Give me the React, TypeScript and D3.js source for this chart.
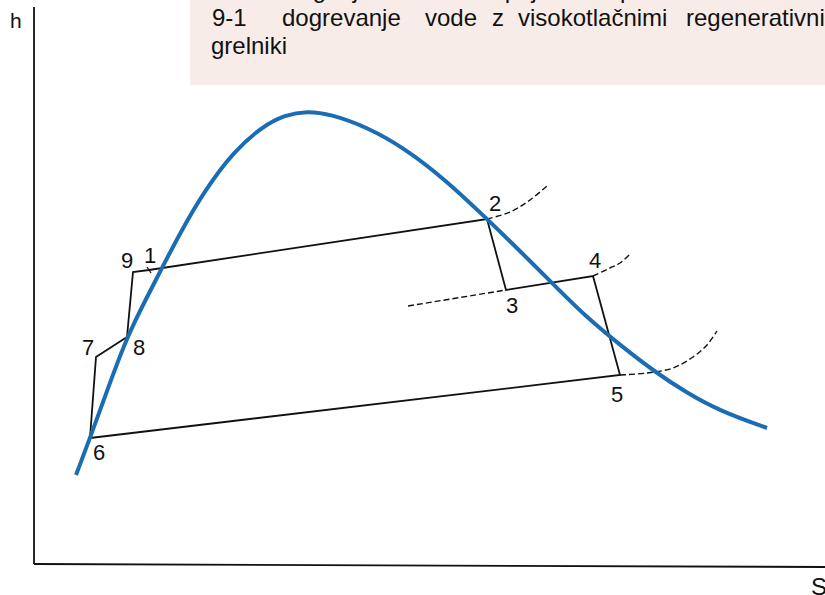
import React from "react";
import * as d3 from "d3";

// Saturation dome (entropy s, enthalpy h) in chart units
const DOME_S = [42, 56, 74, 93, 111, 128, 146, 171, 200, 229, 251, 273, 296, 333, 372, 414, 453, 486, 518, 551, 586, 621, 653, 686, 733];
const DOME_H = [88, 125, 175, 226, 262, 295, 330, 373, 412, 437, 448, 452, 449, 436, 414, 381, 344, 312, 280, 247, 218, 191, 170, 152, 135];

// Cycle state points
const STATE_IDS = ["6", "7", "8", "9", "1", "2", "3", "4", "5"];
const STATE_S = [56, 62, 93, 99, 115, 453, 472, 559, 586];
const STATE_H = [125, 206, 226, 291, 293, 344, 273, 287, 188];
const CYCLE_ORDER = ["6", "7", "8", "9", "1", "2", "3", "4", "5", "6"];

// Isobars continuing past the cycle (dashed)
const ISOBAR_3_S = [374, 472];
const ISOBAR_3_H = [257, 273];
const ISOBAR_2_S = [453, 476, 496, 514];
const ISOBAR_2_H = [344, 351, 363, 378];
const ISOBAR_4_S = [559, 576, 586, 597];
const ISOBAR_4_H = [287, 295, 300, 310];
const ISOBAR_5_S = [586, 613, 639, 659, 673, 683];
const ISOBAR_5_H = [188, 190, 195, 206, 218, 232];

// Legend text
const NOTE_PREV = ["8-9", "dviganje", "tlaka", "z", "napajalno", "črpalko"];
const NOTE_LINE1 = ["9-1", "dogrevanje", "vode", "z", "visokotlačnimi", "regenerativnimi"];
const NOTE_LINE2 = ["grelniki"];
const AXIS_X_LABEL = "S";
const AXIS_Y_LABEL = "h";

const W = 825;
const H = 595;

const FONT = "'Liberation Sans', Arial, sans-serif";

export default function App() {
  const x = d3.scaleLinear().domain([0, 800]).range([34, 834]);
  const y = d3.scaleLinear().domain([0, 560]).range([563, 3]);

  const line = d3
    .line<[number, number]>()
    .x((d) => x(d[0]))
    .y((d) => y(d[1]));
  const smooth = d3
    .line<[number, number]>()
    .x((d) => x(d[0]))
    .y((d) => y(d[1]))
    .curve(d3.curveCatmullRom.alpha(0.5));
  const dome = d3
    .line<[number, number]>()
    .x((d) => x(d[0]))
    .y((d) => y(d[1]))
    .curve(d3.curveBasis);

  const zip = (a: number[], b: number[]): [number, number][] => a.map((v, i) => [v, b[i]]);

  const state: Record<string, [number, number]> = {};
  STATE_IDS.forEach((id, i) => (state[id] = [STATE_S[i], STATE_H[i]]));
  const cyclePts = CYCLE_ORDER.map((id) => state[id]);

  // label placement relative to each state point (px)
  const labelOffset: Record<string, [number, number]> = {
    "6": [3, 22],
    "7": [-14, -2],
    "8": [6, 18],
    "9": [-12, -4],
    "1": [-5, -7],
    "2": [2, -8],
    "3": [0, 23],
    "4": [-4, -8],
    "5": [-9, 27],
  };

  const noteX1 = [212, 282, 425, 492, 518, 686];
  const notePrevX = [212, 282, 390, 455, 478, 600];

  const p1 = state["1"];

  return (
    <svg
      width={W}
      height={H}
      style={{ position: "fixed", left: 0, top: 0, background: "#fff" }}
      fontFamily={FONT}
    >
      {/* note box */}
      <rect x={190} y={0} width={W - 190} height={85} fill="#f8ece8" />
      {NOTE_PREV.map((w, i) => (
        <text key={"p" + i} x={notePrevX[i]} y={-2} fontSize={24} fill="#111">
          {w}
        </text>
      ))}
      {NOTE_LINE1.map((w, i) => (
        <text key={"l" + i} x={noteX1[i]} y={26} fontSize={24} fill="#111">
          {w}
        </text>
      ))}
      {NOTE_LINE2.map((w, i) => (
        <text key={"g" + i} x={211} y={54} fontSize={24} fill="#111">
          {w}
        </text>
      ))}

      {/* axes */}
      <path
        d={line([
          [0, -1],
          [0, 556],
        ])!}
        stroke="#111"
        strokeWidth={1.8}
        fill="none"
      />
      <path
        d={line([
          [0, -1],
          [791, -4],
        ])!}
        stroke="#111"
        strokeWidth={1.8}
        fill="none"
      />
      <text x={10} y={28} fontSize={21} fill="#111">
        {AXIS_Y_LABEL}
      </text>
      <text x={811} y={595} fontSize={24} fill="#111">
        {AXIS_X_LABEL}
      </text>

      {/* dashed isobars */}
      {[
        zip(ISOBAR_3_S, ISOBAR_3_H),
        zip(ISOBAR_2_S, ISOBAR_2_H),
        zip(ISOBAR_4_S, ISOBAR_4_H),
        zip(ISOBAR_5_S, ISOBAR_5_H),
      ].map((pts, i) => (
        <path
          key={"iso" + i}
          d={smooth(pts)!}
          stroke="#111"
          strokeWidth={1.4}
          strokeDasharray="6 3"
          fill="none"
        />
      ))}

      {/* cycle */}
      <path d={line(cyclePts)!} stroke="#111" strokeWidth={1.8} fill="none" strokeLinejoin="miter" />
      <path
        d={`M${x(p1[0]) - 2},${y(p1[1]) - 3}L${x(p1[0]) + 2},${y(p1[1]) + 3}`}
        stroke="#111"
        strokeWidth={1.3}
      />

      {/* saturation dome */}
      <path
        d={dome(zip(DOME_S, DOME_H))!}
        stroke="#1b6db3"
        strokeWidth={4}
        fill="none"
        strokeLinecap="butt"
      />

      {/* state labels */}
      {STATE_IDS.map((id) => {
        const [s, h] = state[id];
        const [dx, dy] = labelOffset[id];
        return (
          <text key={"lab" + id} x={x(s) + dx} y={y(h) + dy} fontSize={22} fill="#111">
            {id}
          </text>
        );
      })}
    </svg>
  );
}
